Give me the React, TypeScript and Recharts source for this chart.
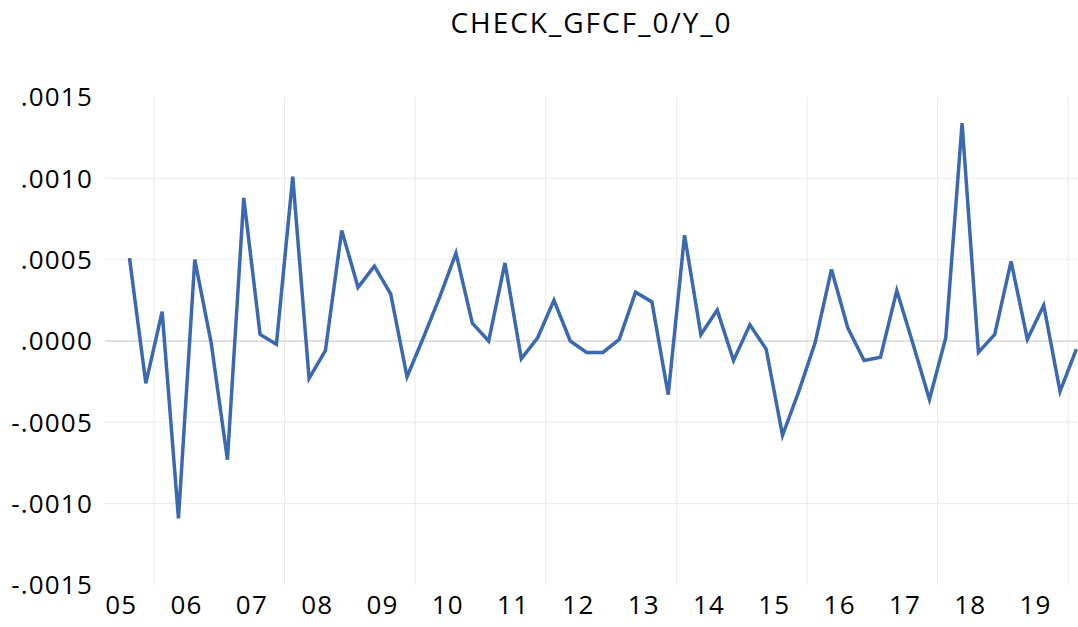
import React from "react";
import { LineChart, Line, XAxis, YAxis, CartesianGrid, ReferenceLine } from "recharts";

// quarterly observations, 2005Q3 .. 2020Q1
const periods = [
  "2005Q3", "2005Q4",
  "2006Q1", "2006Q2", "2006Q3", "2006Q4",
  "2007Q1", "2007Q2", "2007Q3", "2007Q4",
  "2008Q1", "2008Q2", "2008Q3", "2008Q4",
  "2009Q1", "2009Q2", "2009Q3", "2009Q4",
  "2010Q1", "2010Q2", "2010Q3", "2010Q4",
  "2011Q1", "2011Q2", "2011Q3", "2011Q4",
  "2012Q1", "2012Q2", "2012Q3", "2012Q4",
  "2013Q1", "2013Q2", "2013Q3", "2013Q4",
  "2014Q1", "2014Q2", "2014Q3", "2014Q4",
  "2015Q1", "2015Q2", "2015Q3", "2015Q4",
  "2016Q1", "2016Q2", "2016Q3", "2016Q4",
  "2017Q1", "2017Q2", "2017Q3", "2017Q4",
  "2018Q1", "2018Q2", "2018Q3", "2018Q4",
  "2019Q1", "2019Q2", "2019Q3", "2019Q4",
  "2020Q1",
];

const checkValues = [
  0.00051, -0.00026,
  0.00018, -0.00109, 0.0005, -0.00001,
  -0.00073, 0.00088, 0.00004, -0.00002,
  0.00101, -0.00023, -0.00006, 0.00068,
  0.00033, 0.00046, 0.00029, -0.00022,
  0.00002, 0.00027, 0.00054, 0.00011,
  0.0, 0.00048, -0.00011, 0.00002,
  0.00025, 0.0, -0.00007, -0.00007,
  0.00001, 0.0003, 0.00024, -0.00033,
  0.00065, 0.00004, 0.00019, -0.00012,
  0.0001, -0.00005, -0.00058, -0.00031,
  -0.00001, 0.00044, 0.00008, -0.00012,
  -0.0001, 0.00031, -0.00002, -0.00036,
  0.00002, 0.00134, -0.00007, 0.00004,
  0.00049, 0.00001, 0.00022, -0.00031,
  -0.00005,
];

const labelYears = [2005, 2006, 2007, 2008, 2009, 2010, 2011, 2012, 2013, 2014, 2015, 2016, 2017, 2018, 2019];
const gridYears = [2006, 2008, 2010, 2012, 2014, 2016, 2018, 2020];
const yTicks = [-0.0015, -0.001, -0.0005, 0, 0.0005, 0.001, 0.0015];
const yGrid = [-0.001, -0.0005, 0.0005, 0.001];

// position each quarter in the middle of its slot
const toTime = (p: string) => Number(p.slice(0, 4)) + (Number(p.slice(5)) - 0.5) / 4;

const data = periods.map((p, i) => ({ period: p, t: toTime(p), value: checkValues[i] }));

const fmtY = (v: number) => {
  const s = Math.abs(v).toFixed(4).replace(/^0/, "");
  return v < -1e-12 ? "-" + s : s;
};

const FONT = "'Open Sans', 'Noto Sans', sans-serif";
const tickStyle = { fill: "#000", fontSize: 26, fontFamily: FONT, letterSpacing: 1.2 };

export default function App() {
  return (
    <div style={{ position: "absolute", left: 0, top: 0, width: 1078, height: 627, background: "#fff", fontFamily: FONT }}>
      <div
        style={{
          position: "absolute",
          left: 105,
          width: 973,
          top: 8,
          textAlign: "center",
          fontSize: 28,
          lineHeight: "28px",
          letterSpacing: 2,
          color: "#000",
        }}
      >
        CHECK_GFCF_0/Y_0
      </div>
      <LineChart width={1078} height={627} data={data} margin={{ top: 97, right: 0, bottom: 0, left: 0 }}>
        <CartesianGrid
          stroke="#e9e9e9"
          strokeWidth={1}
          verticalValues={gridYears}
          horizontalValues={yGrid}
        />
        <ReferenceLine y={0} stroke="#c2c2c2" strokeWidth={1} />
        <XAxis
          dataKey="t"
          type="number"
          domain={[2005.25, 2020.15]}
          ticks={labelYears.map((y) => y + 0.5)}
          interval={0}
          tickFormatter={(v: number) => String(Math.floor(v)).slice(2)}
          axisLine={false}
          tickLine={false}
          tickSize={0}
          tickMargin={11}
          height={42}
          tick={tickStyle}
        />
        <YAxis
          type="number"
          domain={[-0.0015, 0.0015]}
          ticks={yTicks}
          interval={0}
          tickFormatter={fmtY}
          axisLine={false}
          tickLine={false}
          tickSize={0}
          tickMargin={12}
          width={105}
          tick={tickStyle}
        />
        <Line
          type="linear"
          dataKey="value"
          stroke="#3a69b1"
          strokeWidth={3.5}
          dot={false}
          isAnimationActive={false}
        />
      </LineChart>
    </div>
  );
}
